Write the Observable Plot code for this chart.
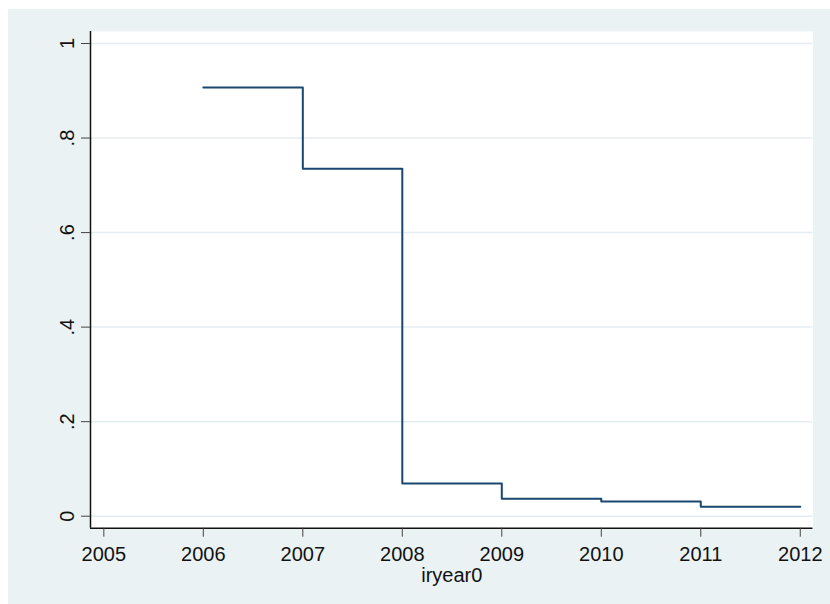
<!DOCTYPE html>
<html>
<head>
<meta charset="utf-8">
<script src="https://cdn.jsdelivr.net/npm/d3@7"></script>
<script src="https://cdn.jsdelivr.net/npm/@observablehq/plot@0.6"></script>
<style>
  html, body { margin: 0; padding: 0; background: #ffffff; }
  #wrap { position: relative; width: 830px; height: 604px; overflow: hidden; }
  #panel { position: absolute; left: 8px; top: 9px; width: 822px; height: 595px; background: #eaf2f3; }
  #chart { position: absolute; left: 0; top: 0; }
  #chart svg { background: transparent; font-family: "Liberation Sans", Arial, sans-serif; }
</style>
</head>
<body>
<div id="wrap"><div id="panel"></div><div id="chart"></div></div>
<script>
// Step function by year of entry
const years  = [2006, 2007, 2008, 2009, 2010, 2011, 2012];
const values = [0.907, 0.735, 0.069, 0.037, 0.031, 0.020, 0.020];

const xTicks = [2005, 2006, 2007, 2008, 2009, 2010, 2011, 2012];
const yTicks = [0, 0.2, 0.4, 0.6, 0.8, 1];
const yTickLabels = ["0", ".2", ".4", ".6", ".8", "1"];
const xTitle = "iryear0";

const xDomain = [2004.866, 2012.128];
const yDomain = [-0.0254, 1.0254];

const series = years.map((year, i) => ({year, value: values[i]}));
const yLabelRows = yTicks.map((v, i) => ({v, label: yTickLabels[i]}));

const navy = "#1a476f";
const fontSize = 20;

const chart = Plot.plot({
  width: 830,
  height: 604,
  marginLeft: 90,
  marginRight: 17.5,
  marginTop: 31,
  marginBottom: 76.3,
  style: {background: "transparent", fontFamily: "'Liberation Sans', Arial, sans-serif"},
  x: {domain: xDomain},
  y: {domain: yDomain},
  marks: [
    Plot.frame({fill: "white", stroke: null}),
    Plot.gridY(yTicks, {stroke: "#e4edf0", strokeOpacity: 1, strokeWidth: 1.5}),
    Plot.line(series, {x: "year", y: "value", curve: "step-after", stroke: navy, strokeWidth: 2}),
    // axis lines
    Plot.ruleY([yDomain[0]], {stroke: "#111", strokeWidth: 1.5}),
    Plot.ruleX([xDomain[0]], {stroke: "#111", strokeWidth: 1.5}),
    // x axis ticks and labels
    Plot.axisX(xTicks, {
      tickSize: 9, tickPadding: 10, tickFormat: d => String(d),
      fontSize, stroke: "#444", fill: "#111", label: null
    }),
    // y axis ticks
    Plot.axisY(yTicks, {tickSize: 9, tickFormat: () => "", stroke: "#444", label: null}),
    // rotated y tick labels
    Plot.text(yLabelRows, {
      y: "v", text: "label", frameAnchor: "left", rotate: -90,
      textAnchor: "middle", lineAnchor: "bottom", dx: -17,
      fontSize, fill: "#111"
    }),
    // x axis title
    Plot.text([xTitle], {
      text: d => d, frameAnchor: "bottom", lineAnchor: "bottom", dy: 53.5,
      fontSize, fill: "#111"
    })
  ]
});

document.getElementById("chart").appendChild(chart);
</script>
</body>
</html>
